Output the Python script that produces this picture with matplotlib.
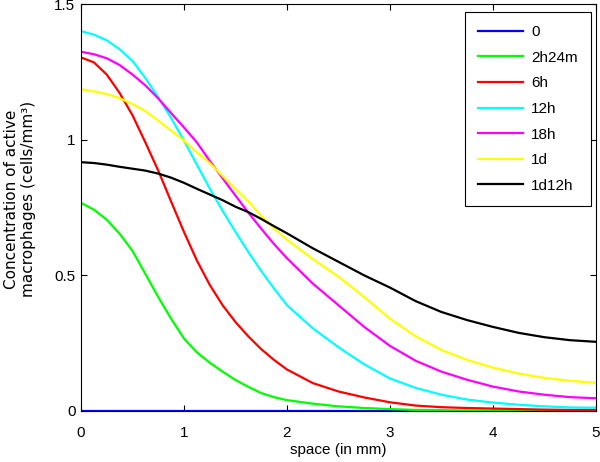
import matplotlib
matplotlib.use("Agg")
import matplotlib.pyplot as plt

# space (mm): finer steps where the curves bend most
space = [0.0, 0.125, 0.25, 0.375, 0.5, 0.625, 0.75, 0.875, 1.0, 1.125, 1.25,
         1.375, 1.5, 1.625, 1.75, 1.875, 2.0, 2.25, 2.5, 2.75, 3.0, 3.25,
         3.5, 3.75, 4.0, 4.25, 4.5, 4.75, 5.0]

labels = ["0", "2h24m", "6h", "12h", "18h", "1d", "1d12h"]
colors = ["#0000ff", "#00ff00", "#ff0000", "#00ffff", "#ff00ff", "#ffff00", "#000000"]

conc_0 = [0.0] * 29
conc_2h24m = [0.767, 0.742, 0.705, 0.653, 0.59, 0.505, 0.42, 0.34, 0.267, 0.216,
              0.178, 0.145, 0.114, 0.089, 0.066, 0.051, 0.04, 0.027, 0.017, 0.011,
              0.007, 0.004, 0.003, 0.002, 0.001, 0.001, 0.0, 0.0, 0.0]
conc_6h = [1.303, 1.285, 1.24, 1.172, 1.09, 0.99, 0.886, 0.772, 0.66, 0.555,
           0.465, 0.39, 0.328, 0.275, 0.228, 0.188, 0.153, 0.103, 0.072, 0.05,
           0.032, 0.02, 0.014, 0.011, 0.009, 0.007, 0.005, 0.004, 0.004]
conc_12h = [1.40, 1.387, 1.366, 1.333, 1.29, 1.227, 1.156, 1.08, 0.996, 0.908,
            0.82, 0.738, 0.66, 0.586, 0.516, 0.451, 0.39, 0.305, 0.235, 0.172,
            0.12, 0.085, 0.06, 0.042, 0.031, 0.023, 0.017, 0.013, 0.012]
conc_18h = [1.324, 1.315, 1.30, 1.275, 1.24, 1.20, 1.152, 1.098, 1.045, 0.99,
            0.922, 0.858, 0.794, 0.731, 0.672, 0.615, 0.563, 0.47, 0.39, 0.31,
            0.24, 0.185, 0.145, 0.115, 0.09, 0.072, 0.06, 0.051, 0.047]
conc_1d = [1.186, 1.178, 1.168, 1.153, 1.131, 1.105, 1.07, 1.033, 0.996, 0.953,
           0.914, 0.866, 0.818, 0.772, 0.72, 0.672, 0.631, 0.56, 0.495, 0.42,
           0.34, 0.275, 0.225, 0.188, 0.16, 0.138, 0.122, 0.111, 0.104]
conc_1d12h = [0.917, 0.914, 0.908, 0.90, 0.893, 0.886, 0.875, 0.86, 0.841, 0.819,
              0.798, 0.777, 0.753, 0.733, 0.708, 0.681, 0.655, 0.60, 0.55, 0.50,
              0.455, 0.405, 0.365, 0.335, 0.31, 0.288, 0.272, 0.261, 0.255]

series = [conc_0, conc_2h24m, conc_6h, conc_12h, conc_18h, conc_1d, conc_1d12h]

tick_font = ["Liberation Sans", "DejaVu Sans"]

figure = plt.figure(figsize=(6.0, 4.62), dpi=100)
axis = figure.add_axes([0.135, 0.1104, 0.858, 0.8809])

for values, label, color in zip(series, labels, colors):
    axis.plot(space, values, color=color, linewidth=1.6, label=label)

axis.set_xlim(0, 5)
axis.set_ylim(0, 1.5)
axis.set_xticks([0, 1, 2, 3, 4, 5])
axis.set_yticks([0, 0.5, 1, 1.5])
axis.set_yticklabels(["0", "0.5", "1", "1.5"])
axis.tick_params(direction="in", top=True, right=True, length=4, width=0.8,
                 labelsize=11)
axis.tick_params(axis="x", pad=11)
axis.tick_params(axis="y", pad=4)
for lab in axis.get_xticklabels() + axis.get_yticklabels():
    lab.set_family(tick_font)
for spine in axis.spines.values():
    spine.set_linewidth(0.8)

axis.set_xlabel("space (in mm)", family=tick_font, fontsize=11, labelpad=2)
axis.set_ylabel("Concentration of active\nmacrophages (cells/mm³)",
                family=["DejaVu Sans"], fontsize=11, linespacing=1.2)
axis.yaxis.set_label_coords(-0.087, 0.52)

legend = axis.legend(loc="upper right", bbox_to_anchor=(0.99, 0.98),
                     fancybox=False, framealpha=1, edgecolor="black",
                     prop={"family": tick_font, "size": 11},
                     handlelength=3.0, handletextpad=0.5, labelspacing=0.76,
                     borderpad=0.85, borderaxespad=0)
legend.get_frame().set_linewidth(0.8)

figure.savefig("out.png", dpi=100)
plt.close(figure)
